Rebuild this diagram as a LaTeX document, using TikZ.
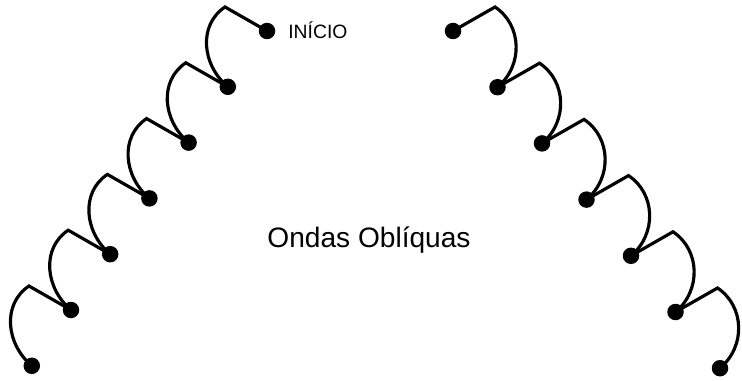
\documentclass[tikz,border=0pt]{standalone}
\usepackage{fontspec}
\setmainfont{Liberation Sans}
\usetikzlibrary{positioning}

\begin{document}
\begin{tikzpicture}[
    x=0.02cm, y=-0.02cm,
    dot/.style={
        circle, fill=black, draw=none, inner sep=0pt,
        minimum size=0.33cm
    },
    wave/.style={line width=1.8pt, black, line join=miter},
    caption/.style={font=\fontsize{16}{19}\selectfont, inner sep=0pt},
    tag/.style={font=\fontsize{11}{13}\selectfont, inner sep=0pt},
]

\useasboundingbox (0,0) rectangle (742,381);

% Left branch dots and corners
\foreach \i in {0,...,6} {
    \node[dot] (l\i) at ({267-39.2*\i}, {31+55.8*\i}) {};
    \coordinate (lc\i) at ({225-39.2*\i}, {7+55.8*\i});
}

% Right branch dots and corners
\foreach \i in {0,...,6} {
    \node[dot] (r\i) at ({453+44.5*\i}, {31+56.2*\i}) {};
    \coordinate (rc\i) at ({495+44.5*\i}, {7+56.2*\i});
}

% Left waves
\foreach \i [evaluate=\i as \j using int(\i+1)] in {0,...,5} {
    \draw[wave] (l\i.center) -- (lc\i)
        .. controls +(-27,18) and +(-26,-22) .. (l\j.center);
}

% Right waves
\foreach \i [evaluate=\i as \j using int(\i+1)] in {0,...,5} {
    \draw[wave] (r\i.center) -- (rc\i)
        .. controls +(27,18) and +(26,-22) .. (r\j.center);
}

% Labels
\node[tag, anchor=base west] (start) at (288,39) {INÍCIO};
\node[caption, anchor=base] (title) at (369,247) {Ondas Oblíquas};

\end{tikzpicture}
\end{document}
